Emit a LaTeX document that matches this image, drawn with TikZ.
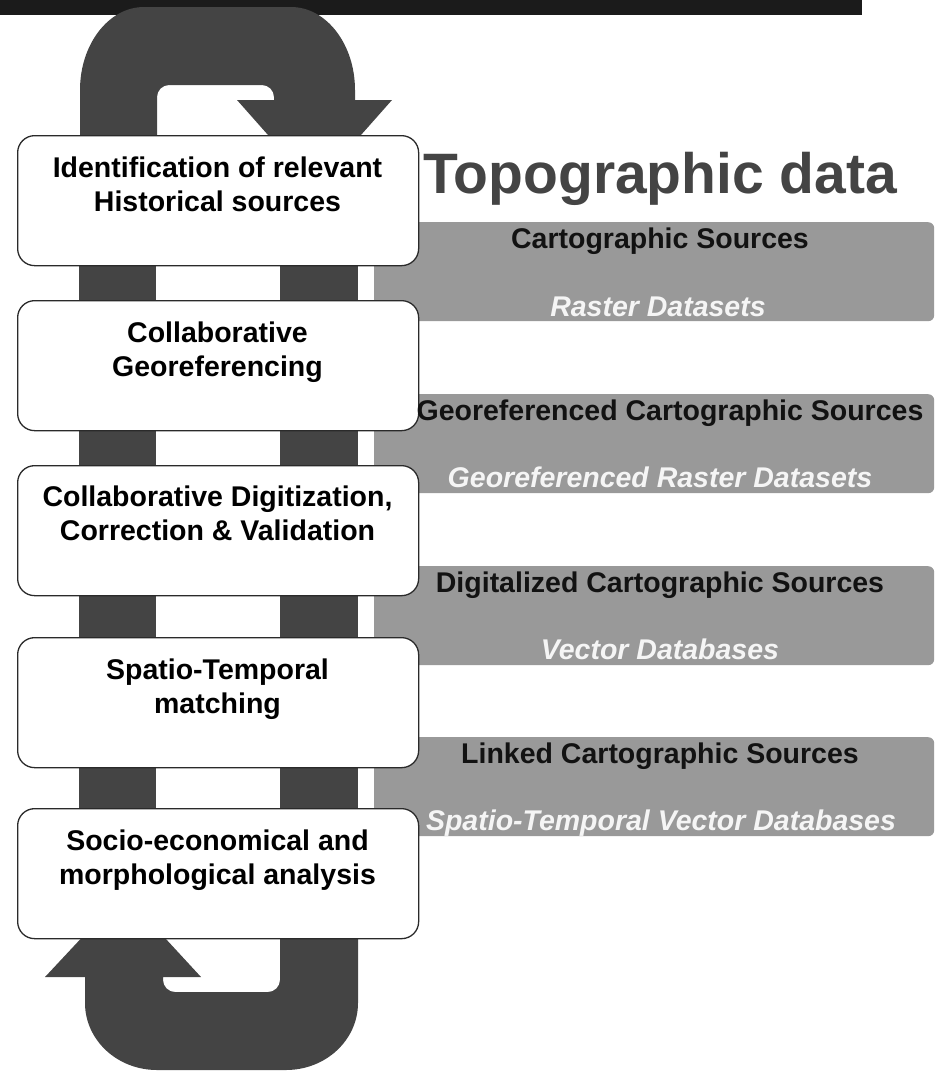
\documentclass[tikz,border=0pt]{standalone}
\usepackage{fontspec}
\setmainfont{Liberation Sans}
\definecolor{arrowgray}{HTML}{444444}
\definecolor{bandgray}{HTML}{999999}
\definecolor{barblack}{HTML}{1B1B1B}
\definecolor{edgegray}{HTML}{2A2A2A}
\begin{document}
\begin{tikzpicture}[x=1pt,y=-1pt,
  stepbox/.style={draw=edgegray, line width=1.3pt, fill=white, rounded corners=17pt,
    minimum width=401pt, minimum height=130pt, inner sep=0pt, anchor=north west},
  grayband/.style={fill=bandgray, rounded corners=6pt, minimum width=560pt,
    minimum height=99pt, inner sep=0pt, anchor=north west},
  boxtext/.style={font=\bfseries\fontsize{28.5}{34}\selectfont, align=center,
    inner sep=0pt, anchor=base, text=black},
  bandtop/.style={font=\bfseries\fontsize{28.5}{34}\selectfont, inner sep=0pt,
    anchor=base, text=black!93},
  bandbottom/.style={font=\bfseries\itshape\fontsize{28.5}{34}\selectfont, inner sep=0pt,
    anchor=base, text=white!96!black},
  loopfill/.style={fill=arrowgray}]
\useasboundingbox (0,0) rectangle (935,1071);

% top dark bar
\fill[barblack] (0,0) rectangle (862,15);

% top loop arrow
\fill[loopfill] (80,140) -- (80,90)
  .. controls (80,44.2) and (108.7,7) .. (144,7) -- (291,7)
  .. controls (326.3,7) and (355,44.2) .. (355,90)
  -- (355,100) -- (392,100) -- (314.5,187.5) -- (237,100) -- (274,100) -- (274,97)
  .. controls (274,90.4) and (268.6,85) .. (262,85) -- (169,85)
  .. controls (162.4,85) and (157,90.4) .. (157,97) -- (157,140) -- cycle;

% vertical bars
\fill[loopfill] (79,140) rectangle (156,938);
\fill[loopfill] (280,150) rectangle (358,938);

% bottom loop arrow
\fill[loopfill] (280,930) -- (280,980)
  .. controls (280,986.6) and (274.6,992) .. (268,992) -- (175,992)
  .. controls (168.4,992) and (163,986.6) .. (163,980)
  -- (163,977) -- (201,977) -- (123.5,893) -- (45,977) -- (85,977) -- (85,1003)
  .. controls (85,1040) and (117.2,1070) .. (157,1070) -- (286,1070)
  .. controls (325.8,1070) and (358,1040) .. (358,1003) -- (358,930) -- cycle;

% gray bands
\node[grayband] (g1) at (374,222) {};
\node[grayband] (g2) at (374,394) {};
\node[grayband] (g3) at (374,566) {};
\node[grayband] (g4) at (374,737) {};

% white step boxes
\node[stepbox] (s1) at (17,135) {};
\node[stepbox] (s2) at (17,300) {};
\node[stepbox] (s3) at (17,465) {};
\node[stepbox] (s4) at (17,637) {};
\node[stepbox] (s5) at (17,808) {};

% step texts (base = baseline of the last line)
\node[boxtext] (t1) at (217.5,211) {Identification of relevant\\Historical sources};
\node[boxtext] (t2) at (217.5,376) {Collaborative\\Georeferencing};
\node[boxtext] (t3) at (217.5,540) {Collaborative Digitization,\\Correction \& Validation};
\node[boxtext] (t4) at (217.5,713) {Spatio-Temporal\\matching};
\node[boxtext] (t5) at (217.5,884) {Socio-economical and\\morphological analysis};

% title
\node[anchor=base west, inner sep=0pt, text=arrowgray,
  font=\bfseries\fontsize{57}{60}\selectfont] (title) at (423,193) {Topographic data};

% band texts
\node[bandtop] (g1a) at (660,248) {Cartographic Sources};
\node[bandbottom] (g1b) at (658,316) {Raster Datasets};
\node[bandtop] (g2a) at (670,420) {Georeferenced Cartographic Sources};
\node[bandbottom] (g2b) at (660,487) {Georeferenced Raster Datasets};
\node[bandtop] (g3a) at (660,592) {Digitalized Cartographic Sources};
\node[bandbottom] (g3b) at (660,659) {Vector Databases};
\node[bandtop] (g4a) at (660,763) {Linked Cartographic Sources};
\node[bandbottom] (g4b) at (661,830) {Spatio-Temporal Vector Databases};
\end{tikzpicture}
\end{document}
